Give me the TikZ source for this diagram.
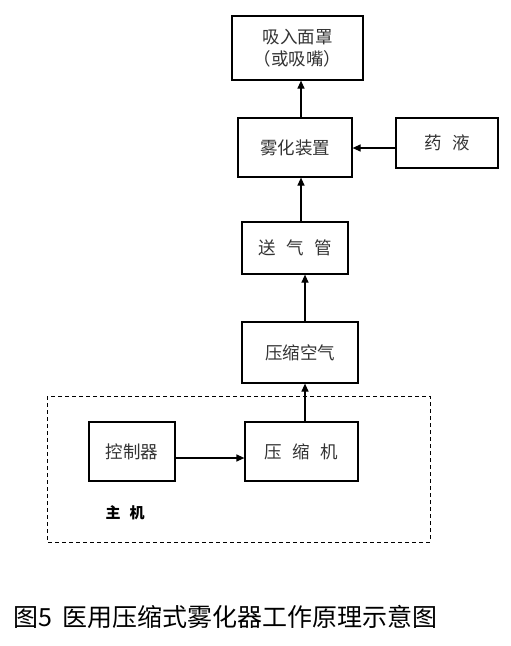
\documentclass[tikz,border=0pt]{standalone}
\usepackage{fontspec}
\setmainfont{Noto Sans CJK SC}
\usetikzlibrary{arrows.meta}
\begin{document}
\begin{tikzpicture}[x=1pt,y=-1pt,
  box/.style={draw,line width=1.2pt,inner sep=0pt,font=\fontsize{17.5}{22}\selectfont,text=black!80},
  arr/.style={line width=1.2pt,-{Triangle[length=8pt,width=7pt]}}]
\useasboundingbox (0,0) rectangle (511,646);
\node[box,minimum width=131pt,minimum height=64pt,align=center] (mask) at (297.5,48) {吸入面罩\\（或吸嘴）};
\node[box,minimum width=114pt,minimum height=59pt] (neb) at (295,147.5) {雾化装置};
\node[box,minimum width=102pt,minimum height=50pt] (med) at (447,143) {药\hspace{0.6em}液};
\node[box,minimum width=106pt,minimum height=52pt] (tube) at (295,248) {送\hspace{0.6em}气\hspace{0.6em}管};
\node[box,minimum width=116pt,minimum height=61pt] (air) at (300,352.5) {压缩空气};
\draw[line width=1pt,dash pattern=on 4pt off 3pt] (47,396) rectangle (430,542);
\node[box,minimum width=86pt,minimum height=59pt] (ctrl) at (132,451.5) {控制器};
\node[box,minimum width=113pt,minimum height=59pt] (comp) at (301.5,451.5) {压\hspace{0.6em}缩\hspace{0.6em}机};
\node[font=\fontsize{15}{18}\selectfont\bfseries] (host) at (125,513) {主\hspace{0.6em}机};
\node[font=\fontsize{25}{30}\selectfont,anchor=west] (cap) at (10,617) {图5\hspace{0.4em}医用压缩式雾化器工作原理示意图};
\draw[arr] (neb.north -| 301,0) -- (mask.south -| 301,0);
\draw[arr] (med.west |- 0,148) -- (neb.east |- 0,148);
\draw[arr] (tube.north -| 301,0) -- (neb.south -| 301,0);
\draw[arr] (air.north -| 305,0) -- (tube.south -| 305,0);
\draw[arr] (comp.north -| 305,0) -- (air.south -| 305,0);
\draw[arr] (ctrl.east |- 0,458) -- (comp.west |- 0,458);
\end{tikzpicture}
\end{document}
